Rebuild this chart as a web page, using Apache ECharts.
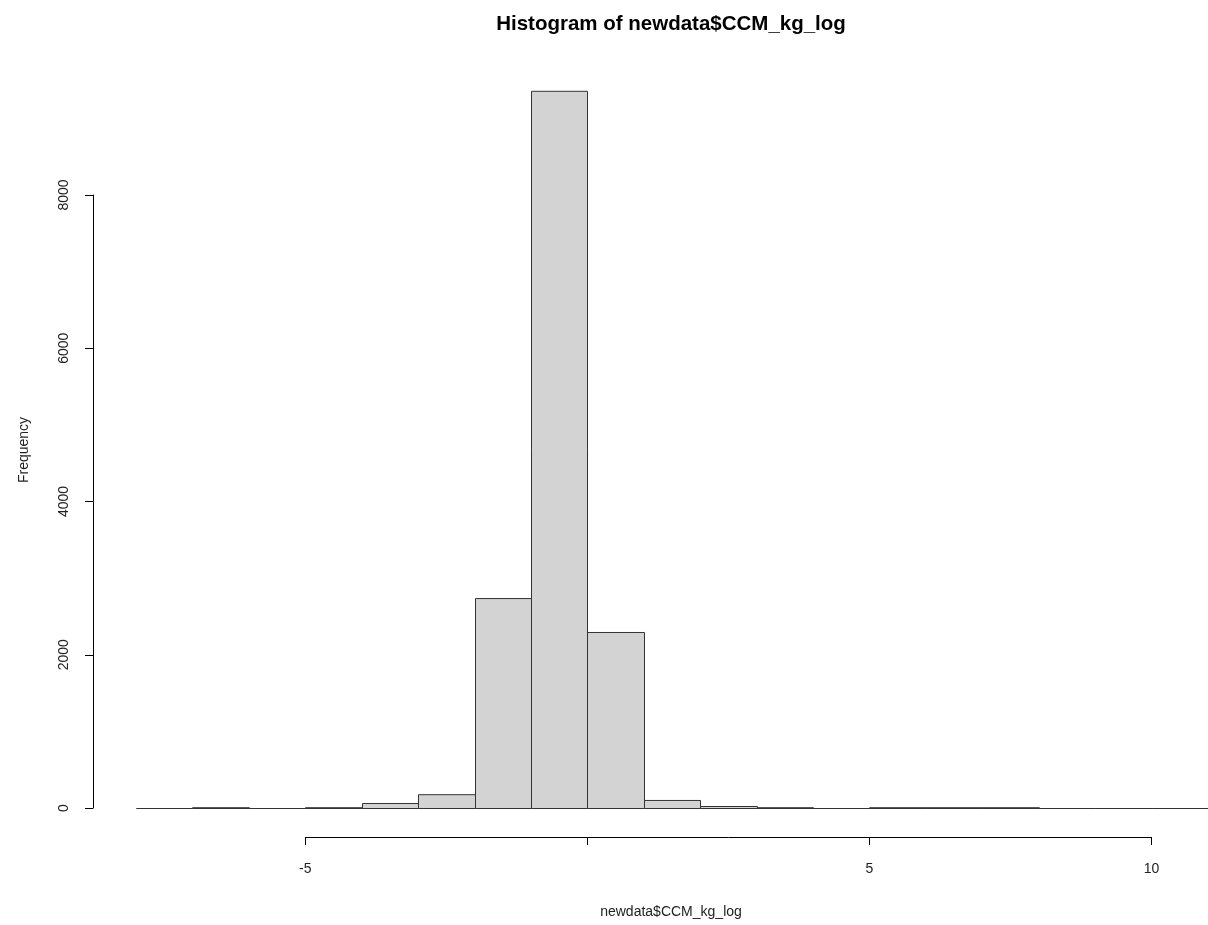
<!DOCTYPE html>
<html>
<head>
<meta charset="utf-8">
<script src="https://cdn.jsdelivr.net/npm/echarts@6/dist/echarts.min.js"></script>
<style>html,body{margin:0;padding:0;background:#fff;}#c{width:1208px;height:925px;}</style>
</head>
<body>
<div id="c"></div>
<script>
// Histogram bins (newdata$CCM_kg_log), width 1
var binStarts = [-8,-7,-6,-5,-4,-3,-2,-1,0,1,2,3,4,5,6,7,8,9,10];
var binEnds   = [-7,-6,-5,-4,-3,-2,-1,0,1,2,3,4,5,6,7,8,9,10,11];
var counts    = [0,5,0,6,65,180,2740,9360,2297,105,26,8,0,3,2,3,0,0,0];
var xTicks = [-5, 0, 5, 10];
var xTickLabels = ['-5', '', '5', '10'];
var yTicks = [0, 2000, 4000, 6000, 8000];

var titleText = 'Histogram of newdata$CCM_kg_log';
var xTitle = 'newdata$CCM_kg_log';
var yTitle = 'Frequency';

var histData = binStarts.map(function (s, i) { return [s, binEnds[i], counts[i]]; });

var chart = echarts.init(document.getElementById('c'), null, { renderer: 'canvas' });
var FONT = 'Liberation Sans, Arial, sans-serif';
var TXT = '#222';

chart.setOption({
  backgroundColor: '#fff',
  animation: false,
  grid: [
    { left: 136, top: 41.75, width: 1072, height: 766.25 },   // bars
    { left: 305.3, top: 800, width: 846.3, height: 37 },      // x axis
    { left: 93, top: 195, width: 10, height: 613 }            // y axis
  ],
  xAxis: [
    { gridIndex: 0, type: 'value', min: -8, max: 11, show: false },
    { gridIndex: 1, type: 'value', min: -5, max: 10, interval: 5,
      axisLine: { show: true, onZero: false, lineStyle: { color: '#000', width: 1 } },
      axisTick: { show: true, inside: false, length: 8, lineStyle: { color: '#000' } },
      splitLine: { show: false },
      axisLabel: { margin: 25, fontSize: 14, color: TXT, fontFamily: FONT,
        formatter: function (v) { var i = xTicks.indexOf(v); return i >= 0 ? xTickLabels[i] : ''; } } },
    { gridIndex: 2, type: 'value', min: 0, max: 1, show: false }
  ],
  yAxis: [
    { gridIndex: 0, type: 'value', min: 0, max: 10000, show: false },
    { gridIndex: 1, type: 'value', min: 0, max: 1, show: false },
    { gridIndex: 2, type: 'value', min: yTicks[0], max: yTicks[yTicks.length - 1], interval: 2000,
      position: 'left',
      axisLine: { show: true, lineStyle: { color: '#000', width: 1 } },
      axisTick: { show: true, inside: false, length: 8, lineStyle: { color: '#000' } },
      splitLine: { show: false },
      axisLabel: { margin: 22, rotate: 90, fontSize: 14, color: TXT, fontFamily: FONT,
        verticalAlign: 'bottom', align: 'center',
        formatter: function (v) { return String(v); } } }
  ],
  graphic: [
    { type: 'text', x: 671, y: 24, style: { text: titleText, font: 'bold 20.5px ' + FONT, fill: '#000', align: 'center', verticalAlign: 'middle' } },
    { type: 'text', x: 671, y: 912, style: { text: xTitle, font: '14px ' + FONT, fill: TXT, align: 'center', verticalAlign: 'middle' } },
    { type: 'text', x: 24, y: 450, rotation: Math.PI / 2, style: { text: yTitle, font: '14px ' + FONT, fill: TXT, align: 'center', verticalAlign: 'middle' } }
  ],
  series: [
    {
      type: 'custom',
      xAxisIndex: 0, yAxisIndex: 0,
      data: histData,
      clip: false,
      renderItem: function (params, api) {
        var p0 = api.coord([api.value(0), api.value(2)]);
        var p1 = api.coord([api.value(1), 0]);
        var yb = Math.round(p1[1]) + 0.5;
        var yt = api.value(2) > 0 ? Math.min(p0[1] + 0.5, yb - 0.8) : yb;
        return {
          type: 'rect',
          shape: { x: Math.round(p0[0]) + 0.5, y: yt,
                   width: Math.round(p1[0]) - Math.round(p0[0]), height: yb - yt },
          style: { fill: '#d3d3d3', stroke: '#333', lineWidth: 1 }
        };
      }
    }
  ]
});
</script>
</body>
</html>
